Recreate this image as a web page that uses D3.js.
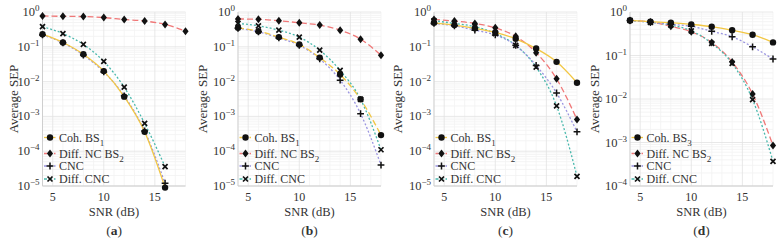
<!DOCTYPE html>
<html><head><meta charset="utf-8">
<script src="https://cdn.jsdelivr.net/npm/d3@7"></script>
<style>body{margin:0;background:#fff}svg{display:block}</style>
</head><body>
<svg id="c" width="781" height="244"></svg>
<script>
const snr = [4, 6, 8, 10, 12, 14, 16, 18];
const panelLetters = ["a", "b", "c", "d"];
const yExtents = [[1e-5, 1], [1e-5, 1], [1e-5, 1], [1e-4, 1]];
const xTicks = [5, 10, 15];
const seriesNames = ["Coh. BS", "Diff. NC BS", "CNC", "Diff. CNC"];
const seriesSubs = [["1", "2", "", ""], ["1", "2", "", ""], ["1", "2", "", ""], ["3", "2", "", ""]];

// Panel (a)
const aCoh = [0.23, 0.133, 0.061, 0.020, 0.0037, 3.6e-4, 9e-6];
const aDiffNC = [0.77, 0.75, 0.74, 0.69, 0.61, 0.55, 0.44, 0.28];
const aCNC = [0.22, 0.13, 0.058, 0.019, 0.0039, 3.8e-4, 1.2e-5];
const aDiffCNC = [0.38, 0.24, 0.117, 0.038, 0.0069, 6.3e-4, 3.6e-5];
// Panel (b)
const bCoh = [0.35, 0.28, 0.19, 0.117, 0.049, 0.016, 0.0031, 2.9e-4];
const bDiffNC = [0.63, 0.62, 0.56, 0.49, 0.42, 0.30, 0.166, 0.057];
const bCNC = [0.34, 0.27, 0.18, 0.11, 0.045, 0.011, 0.0012, 4e-5];
const bDiffCNC = [0.47, 0.40, 0.30, 0.19, 0.08, 0.021, 0.0031, 1.1e-4];
// Panel (c)
const cCoh = [0.49, 0.42, 0.34, 0.26, 0.17, 0.089, 0.037, 0.0093];
const cDiffNC = [0.61, 0.55, 0.47, 0.35, 0.20, 0.068, 0.012, 8.1e-4];
const cCNC = [0.47, 0.40, 0.30, 0.22, 0.11, 0.029, 0.0047, 3.6e-4];
const cDiffCNC = [0.56, 0.47, 0.38, 0.24, 0.11, 0.026, 0.0020, 1.9e-5];
// Panel (d)
const dCoh = [0.64, 0.60, 0.57, 0.52, 0.46, 0.38, 0.30, 0.20];
const dDiffNC = [0.64, 0.59, 0.47, 0.35, 0.20, 0.071, 0.013, 8.5e-4];
const dCNC = [0.64, 0.58, 0.52, 0.47, 0.36, 0.27, 0.158, 0.083];
const dDiffCNC = [0.64, 0.58, 0.50, 0.37, 0.19, 0.066, 0.0097, 3.7e-4];

const panelData = [
  [aCoh, aDiffNC, aCNC, aDiffCNC],
  [bCoh, bDiffNC, bCNC, bDiffCNC],
  [cCoh, cDiffNC, cCNC, cDiffCNC],
  [dCoh, dDiffNC, dCNC, dDiffCNC]
];

const colors = ["#f2c744", "#f07878", "#9a94e0", "#48b8ac"];
const dashes = [[null, "6,3", "2,2", "2,2"], ["6,3", "6,3", "2,2", "2,2"], [null, "6,3", "2,2", "2,2"], [null, "6,3", "2,2", "2,2"]];
const markers = ["circle", "diamond", "plus", "cross"];

const lefts = [42.5, 238, 434, 630];
const plotW = 143, plotTop = 12, plotBottom = 186;
const ylabX = [14, 203, 398, 595];
const FONT = "'Liberation Serif', 'Times New Roman', serif";

const svg = d3.select("#c");

function drawMarker(g, type, x, y) {
  if (type === "circle") g.append("circle").attr("cx", x).attr("cy", y).attr("r", 3.2).attr("fill", "#111");
  else if (type === "diamond") g.append("path").attr("d", `M${x},${y-4}L${x+3.1},${y}L${x},${y+4}L${x-3.1},${y}Z`).attr("fill", "#111");
  else if (type === "plus") g.append("path").attr("d", `M${x-3.4},${y}H${x+3.4}M${x},${y-3.4}V${y+3.4}`).attr("stroke", "#111").attr("stroke-width", 1.5);
  else g.append("path").attr("d", `M${x-2.5},${y-2.5}L${x+2.5},${y+2.5}M${x-2.5},${y+2.5}L${x+2.5},${y-2.5}`).attr("stroke", "#111").attr("stroke-width", 1.7);
}

function txt(g) { return g.append("text").style("font-family", FONT).attr("fill", "#333"); }

panelData.forEach((series, p) => {
  const L = lefts[p];
  const x = d3.scaleLinear().domain([4, 18]).range([L, L + plotW]);
  const y = d3.scaleLog().domain(yExtents[p]).range([plotBottom, plotTop]);
  const g = svg.append("g");
  const lo = Math.round(Math.log10(yExtents[p][0]));
  for (let e = lo; e < 0; e++) {
    for (let m = 2; m < 10; m++) {
      const v = m * Math.pow(10, e);
      g.append("line").attr("x1", L).attr("x2", L + plotW).attr("y1", y(v)).attr("y2", y(v)).attr("stroke", "#f1f1f1").attr("stroke-width", 0.8);
    }
  }
  for (let v = 4; v <= 18; v++) {
    if (v % 5 === 0) continue;
    g.append("line").attr("x1", x(v)).attr("x2", x(v)).attr("y1", plotTop).attr("y2", plotBottom).attr("stroke", "#f3f3f3").attr("stroke-width", 0.8);
  }
  for (let e = lo; e <= 0; e++) {
    const v = Math.pow(10, e);
    g.append("line").attr("x1", L).attr("x2", L + plotW).attr("y1", y(v)).attr("y2", y(v)).attr("stroke", "#e2e2e2").attr("stroke-width", 0.8);
  }
  xTicks.forEach(t => {
    g.append("line").attr("x1", x(t)).attr("x2", x(t)).attr("y1", plotTop).attr("y2", plotBottom).attr("stroke", "#e2e2e2").attr("stroke-width", 0.8);
  });
  g.append("line").attr("x1", L).attr("x2", L).attr("y1", plotTop).attr("y2", plotBottom).attr("stroke", "#cfcfcf");
  g.append("line").attr("x1", L).attr("x2", L + plotW).attr("y1", plotBottom).attr("y2", plotBottom).attr("stroke", "#cfcfcf");

  for (let e = lo; e <= 0; e++) {
    const t = txt(g).attr("x", L - 3).attr("y", y(Math.pow(10, e)) + 4).attr("text-anchor", "end").attr("font-size", 12.5);
    t.append("tspan").text("10");
    t.append("tspan").attr("dy", -5).attr("font-size", 9).text(e === 0 ? "0" : "\u2212" + (-e));
  }
  xTicks.forEach(tk => {
    txt(g).attr("x", x(tk)).attr("y", 200.5).attr("text-anchor", "middle").attr("font-size", 12).text(tk);
  });
  txt(g).attr("x", L + plotW / 2).attr("y", 216).attr("text-anchor", "middle").attr("font-size", 12.5).text("SNR (dB)");
  const cap = txt(g).attr("x", L + plotW / 2).attr("y", 235).attr("text-anchor", "middle").attr("font-size", 13.5);
  cap.append("tspan").text("(");
  cap.append("tspan").attr("font-weight", "bold").text(panelLetters[p]);
  cap.append("tspan").text(")");
  txt(g).attr("transform", `translate(${ylabX[p] + 4},${(plotTop + plotBottom) / 2}) rotate(-90)`).attr("text-anchor", "middle").attr("font-size", 13).text("Average SEP");

  const line = d3.line().x(d => x(d[0])).y(d => y(d[1])).curve(d3.curveMonotoneX);
  [1, 3, 2, 0].forEach(s => {
    const pts = series[s].map((v, i) => [snr[i], v]);
    g.append("path").attr("d", line(pts)).attr("fill", "none").attr("stroke", colors[s]).attr("stroke-width", 1.3)
      .attr("stroke-dasharray", dashes[p][s]);
  });
  [1, 3, 2, 0].forEach(s => {
    series[s].forEach((v, i) => drawMarker(g, markers[s], x(snr[i]), y(v)));
  });

  const rowY = [137.5, 153.5, 166, 179];
  seriesNames.forEach((name, s) => {
    const ly = rowY[s];
    g.append("line").attr("x1", L + 1.5).attr("x2", L + 13).attr("y1", ly).attr("y2", ly).attr("stroke", colors[s]).attr("stroke-width", 1.3).attr("stroke-dasharray", dashes[p][s] ? "3,2" : null);
    drawMarker(g, markers[s], L + 7.5, ly);
    const t = txt(g).attr("x", L + 16.5).attr("y", ly + 4).attr("font-size", 12);
    t.append("tspan").text(name);
    if (seriesSubs[p][s]) t.append("tspan").attr("dy", 4).attr("font-size", 9).text(seriesSubs[p][s]);
  });
});
</script>
</body></html>
